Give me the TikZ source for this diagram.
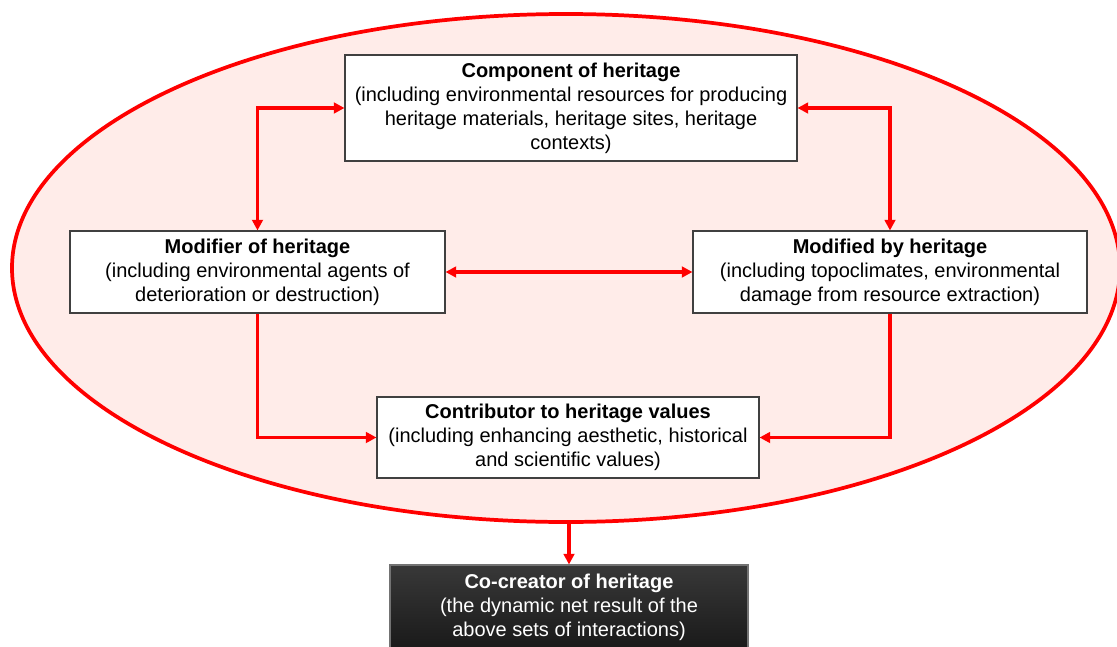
\documentclass[tikz,border=0pt]{standalone}
\usepackage{fontspec}
\setmainfont{Liberation Sans}
\usetikzlibrary{arrows.meta,shapes.geometric}
\definecolor{ellred}{HTML}{FF0000}
\definecolor{ellfill}{HTML}{FFECE9}
\definecolor{boxline}{HTML}{404040}
\tikzset{
every picture/.style={
x=0.75pt, y=-0.75pt
},
box/.style={draw=boxline, fill=white, line width=0.8pt, align=center, inner sep=0pt,
  font=\fontsize{15pt}{18pt}\selectfont},
link/.style={draw=ellred, line width=2.3pt, arrows={-}, >={Triangle[length=8pt,width=8pt]}}
}

\begin{document}
\begin{tikzpicture}
  \useasboundingbox (0,0) rectangle (1117,646);

  \node (ell) [ellipse, draw=ellred, fill=ellfill, line width=2.8pt, inner sep=0pt,
    minimum width=831pt, minimum height=381pt] at (566,268) {};

  \node (comp) [box, minimum width=339pt, minimum height=79.5pt] at (571,108)
    {\textbf{Component of heritage}\\(including environmental resources for producing\\heritage materials, heritage sites, heritage\\contexts)};
  \node (modifier) [box, minimum width=281.25pt, minimum height=61.5pt] at (257.5,272)
    {\textbf{Modifier of heritage}\\(including environmental agents of\\deterioration or destruction)};
  \node (modified) [box, minimum width=295.5pt, minimum height=61.5pt] at (890,272)
    {\textbf{Modified by heritage}\\(including topoclimates, environmental\\damage from resource extraction)};
  \node (contrib) [box, minimum width=286.5pt, minimum height=60.75pt] at (568,437.5)
    {\textbf{Contributor to heritage values}\\(including enhancing aesthetic, historical\\and scientific values)};

  \node (cocreator) [box, draw=black!55, top color=black!78, bottom color=black!90, text=white,
    minimum width=268.5pt, minimum height=63pt] at (569,607)
    {\textbf{Co-creator of heritage}\\(the dynamic net result of the\\above sets of interactions)};

  \draw [link, <->] (comp.west) -| (modifier.north);
  \draw [link, <->] (comp.east) -| (modified.north);
  \draw [link, <->] (modifier.east) -- (modified.west);
  \draw [link, ->] (modifier.south) |- (contrib.west);
  \draw [link, ->] (modified.south) |- (contrib.east);
  \draw [link, ->] (cocreator.north |- ell.south) -- (cocreator.north);

\end{tikzpicture}
\end{document}
